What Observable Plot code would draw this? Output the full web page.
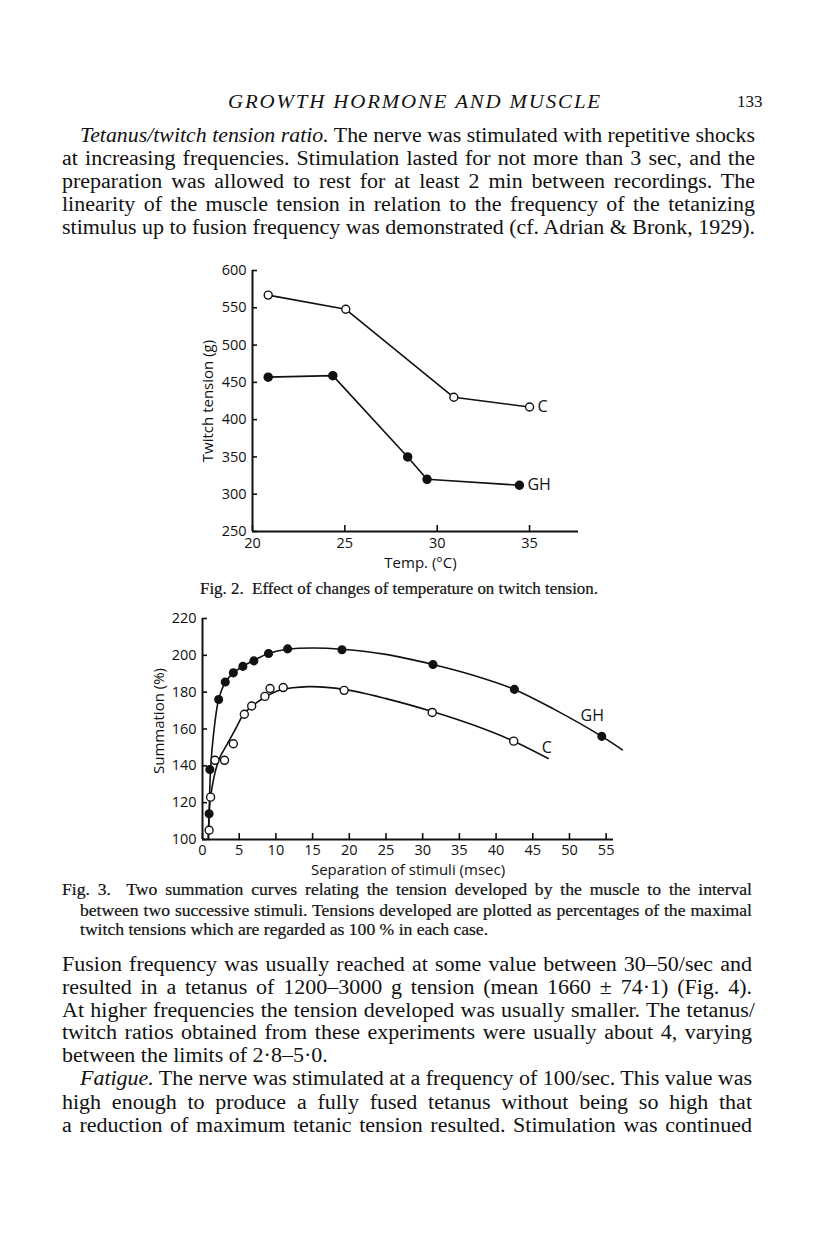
<!DOCTYPE html>
<html><head><meta charset="utf-8">
<script src="https://cdn.jsdelivr.net/npm/d3@7"></script>
<script src="https://cdn.jsdelivr.net/npm/@observablehq/plot@0.6"></script>
<style>
body{margin:0;background:#fff;}
#page{position:relative;width:816px;height:1249px;overflow:hidden;background:#fff;color:#111;}
.ln{position:absolute;white-space:nowrap;font-family:"Liberation Serif","Times New Roman",serif;font-size:20px;line-height:24px;color:#111;transform-origin:0 0;}
.cap{font-size:16px;line-height:18px;-webkit-text-stroke:0.2px #111;}
.hdr{font-size:19px;font-style:italic;}
.pg{font-size:17px;}
.chart{position:absolute;left:0;}
</style></head><body><div id="page"></div>
<script>
// ---------- Fig. 2 data: twitch tension vs temperature ----------
const tempC = [20.85, 25.05, 30.9, 35.0];
const tensionC = [567, 548, 430, 417];
const tempGH = [20.85, 24.35, 28.4, 29.45, 34.45];
const tensionGH = [457, 459, 350, 320, 312];
const tempTicks = [20, 25, 30, 35];
const tensionTicks = [250, 300, 350, 400, 450, 500, 550, 600];
const fig2SeriesLabels = ["C", "GH"];
const fig2AxisLabels = ["Temp. (°C)", "Twitch tension (g)"];

// ---------- Fig. 3 data: summation vs separation of stimuli ----------
const sepGH = [0.9, 1.0, 2.2, 3.1, 4.2, 5.5, 7.0, 9.0, 11.6, 19.0, 31.4, 42.5, 54.4];
const sumGH = [114, 138, 176, 185.5, 190.5, 194, 197, 201, 203.5, 203, 195, 181.5, 156];
const sepC = [0.9, 1.1, 1.7, 3.0, 4.2, 5.7, 6.7, 8.5, 9.2, 11.0, 19.3, 31.3, 42.4];
const sumC = [105, 123, 143, 143, 152, 168, 172.5, 177.7, 182, 182.5, 181, 169, 153.4];
// fitted curves
const curveGHx = [0.8, 0.9, 1.1, 1.5, 2.2, 3.1, 4.2, 5.5, 7.0, 9.0, 11.6, 15, 19, 25, 31.4, 37, 42.5, 48, 54.4, 57.2];
const curveGHy = [100, 114, 138, 157, 176, 185.3, 190.5, 194, 197.3, 201, 203.3, 204, 203.3, 200.5, 195, 189, 181.5, 170.5, 156, 148.7];
const curveCx = [0.8, 1.1, 2.2, 3.4, 4.5, 5.6, 6.7, 8.4, 10.5, 14.5, 19.3, 25, 31.3, 37, 42.4, 47.1];
const curveCy = [100, 123, 143, 152, 160, 168, 172.3, 177, 181, 183, 181.5, 176.5, 169.5, 162, 153.4, 144];
const sepTicks = [0, 5, 10, 15, 20, 25, 30, 35, 40, 45, 50, 55];
const sumTicks = [100, 120, 140, 160, 180, 200, 220];
const fig3Labels = [{x: 53.1, y: 167, t: "GH"}, {x: 46.9, y: 150, t: "C"}];
const fig3AxisLabels = ["Separation of stimuli (msec)", "Summation (%)"];

// ---------- page text ----------
const headerTitle = "GROWTH HORMONE AND MUSCLE";
const pageNumber = "133";
const para1 = [
  "<i>Tetanus/twitch tension ratio.</i> The nerve was stimulated with repetitive shocks",
  "at increasing frequencies. Stimulation lasted for not more than 3 sec, and the",
  "preparation was allowed to rest for at least 2 min between recordings. The",
  "linearity of the muscle tension in relation to the frequency of the tetanizing",
  "stimulus up to fusion frequency was demonstrated (cf. Adrian &amp; Bronk, 1929)."
];
const fig2Caption = "Fig. 2.&nbsp; Effect of changes of temperature on twitch tension.";
const fig3Caption = [
  "Fig. 3.&nbsp; Two summation curves relating the tension developed by the muscle to the interval",
  "between two successive stimuli. Tensions developed are plotted as percentages of the maximal",
  "twitch tensions which are regarded as 100 % in each case."
];
const para2 = [
  "Fusion frequency was usually reached at some value between 30–50/sec and",
  "resulted in a tetanus of 1200–3000 g tension (mean 1660 ± 74·1) (Fig. 4).",
  "At higher frequencies the tension developed was usually smaller. The tetanus/",
  "twitch ratios obtained from these experiments were usually about 4, varying",
  "between the limits of 2·8–5·0.",
  "<i>Fatigue.</i> The nerve was stimulated at a frequency of 100/sec. This value was",
  "high enough to produce a fully fused tetanus without being so high that",
  "a reduction of maximum tetanic tension resulted. Stimulation was continued"
];

const page = document.getElementById("page");
const STRETCH = 1.1; // wider glyphs, like the original Modern face
function placeLine(html, left, right, cy, cls, mode, stretch = STRETCH) {
  const el = document.createElement("div");
  el.className = "ln " + (cls || "");
  el.innerHTML = html;
  page.appendChild(el);
  const h = el.offsetHeight;
  el.style.left = left + "px";
  el.style.top = (cy - h / 2) + "px";
  let sx = stretch;
  if (right != null) {
    const w = el.getBoundingClientRect().width;
    const T = (right - left) / sx;
    if (mode === "letter") {
      const n = el.textContent.length;
      el.style.letterSpacing = ((T - w) / n) + "px";
    } else {
      const spaces = (el.textContent.match(/[ \u00a0]/g) || []).length;
      if (w < T && spaces) el.style.wordSpacing = ((T - w) / spaces) + "px";
      else if (w > T) sx = (right - left) / w;
    }
  }
  el.style.transform = `scaleX(${sx})`;
  return el;
}

// header
placeLine(headerTitle, 228, 602, 102, "hdr", "letter");
placeLine(pageNumber, 737, null, 102, "pg", null, 1);
// paragraph 1
const p1Y = [137, 160, 183, 206, 229];
para1.forEach((t, i) => placeLine(t, i === 0 ? 80 : 62, 755, p1Y[i] - 2));

// ---------- Fig. 2 ----------
const axisFont = "'Open Sans', sans-serif";
const f2C = tempC.map((x, i) => ({x, y: tensionC[i]}));
const f2GH = tempGH.map((x, i) => ({x, y: tensionGH[i]}));
const chart1 = Plot.plot({
  width: 816, height: 320,
  marginLeft: 252, marginRight: 238, marginTop: 15, marginBottom: 44,
  x: {domain: [20, 37.65]},
  y: {domain: [250, 600]},
  style: {fontFamily: axisFont, fontSize: "14.5px", color: "#111", background: "transparent", overflow: "visible"},
  marks: [
    Plot.axisY(tensionTicks, {tickSize: -5, tickPadding: 11, strokeWidth: 1.6, label: null, tickFormat: d => d, fontSize: 14.5}),
    Plot.axisX(tempTicks, {tickSize: -6, tickPadding: 12, strokeWidth: 1.6, label: null, tickFormat: d => d, fontSize: 14.5}),
    Plot.ruleX([20], {strokeWidth: 2}),
    Plot.ruleY([250], {strokeWidth: 2}),
    Plot.line(f2C, {x: "x", y: "y", strokeWidth: 1.6, stroke: "#111"}),
    Plot.line(f2GH, {x: "x", y: "y", strokeWidth: 1.6, stroke: "#111"}),
    Plot.dot(f2C, {x: "x", y: "y", r: 4, fill: "white", stroke: "#111", strokeWidth: 1.4}),
    Plot.dot(f2GH, {x: "x", y: "y", r: 4, fill: "#111", stroke: "#111"}),
    Plot.text([f2C[f2C.length - 1]], {x: "x", y: "y", text: () => fig2SeriesLabels[0], dx: 8, textAnchor: "start", fontSize: 16}),
    Plot.text([f2GH[f2GH.length - 1]], {x: "x", y: "y", text: () => fig2SeriesLabels[1], dx: 8, textAnchor: "start", fontSize: 16}),
    Plot.text([fig2AxisLabels[0]], {frameAnchor: "bottom", text: d => d, dx: 5, dy: 32, textAnchor: "middle", lineAnchor: "middle", fontSize: 15}),
    Plot.text([fig2AxisLabels[1]], {frameAnchor: "left", text: d => d, dx: -44, rotate: -90, textAnchor: "middle", lineAnchor: "middle", fontSize: 15})
  ]
});
chart1.classList.add("chart");
chart1.style.top = "255px";
page.appendChild(chart1);

placeLine(fig2Caption, 200, 598, 589, "cap");

// ---------- Fig. 3 ----------
const f3GH = sepGH.map((x, i) => ({x, y: sumGH[i]}));
const f3C = sepC.map((x, i) => ({x, y: sumC[i]}));
const f3GHc = curveGHx.map((x, i) => ({x, y: curveGHy[i]}));
const f3Cc = curveCx.map((x, i) => ({x, y: curveCy[i]}));
const chart2 = Plot.plot({
  width: 816, height: 290,
  marginLeft: 202, marginRight: 203, marginTop: 18, marginBottom: 51,
  x: {domain: [0, 56]},
  y: {domain: [100, 220]},
  style: {fontFamily: axisFont, fontSize: "14.5px", color: "#111", background: "transparent", overflow: "visible"},
  marks: [
    Plot.axisY(sumTicks, {tickSize: -5, tickPadding: 11, strokeWidth: 1.6, label: null, tickFormat: d => d, fontSize: 14.5}),
    Plot.axisX(sepTicks, {tickSize: -6, tickPadding: 11, strokeWidth: 1.6, label: null, tickFormat: d => d, fontSize: 14.5}),
    Plot.ruleX([0], {strokeWidth: 2}),
    Plot.ruleY([100], {strokeWidth: 2}),
    Plot.line(f3GHc, {x: "x", y: "y", curve: "catmull-rom", strokeWidth: 1.6, stroke: "#111"}),
    Plot.line(f3Cc, {x: "x", y: "y", curve: "catmull-rom", strokeWidth: 1.6, stroke: "#111"}),
    Plot.dot(f3C, {x: "x", y: "y", r: 4, fill: "white", stroke: "#111", strokeWidth: 1.4}),
    Plot.dot(f3GH, {x: "x", y: "y", r: 3.8, fill: "#111", stroke: "#111"}),
    Plot.text(fig3Labels, {x: "x", y: "y", text: "t", fontSize: 16}),
    Plot.text([fig3AxisLabels[0]], {frameAnchor: "bottom", text: d => d, dy: 31, textAnchor: "middle", lineAnchor: "middle", fontSize: 15}),
    Plot.text([fig3AxisLabels[1]], {frameAnchor: "left", text: d => d, dx: -43, dy: -8, rotate: -90, textAnchor: "middle", lineAnchor: "middle", fontSize: 15})
  ]
});
chart2.classList.add("chart");
chart2.style.top = "600px";
page.appendChild(chart2);

placeLine(fig3Caption[0], 62, 752, 890, "cap");
placeLine(fig3Caption[1], 80, 752, 911, "cap");
placeLine(fig3Caption[2], 80, null, 930, "cap");

// paragraph 2
const p2Y = [966, 989, 1012, 1034, 1057, 1080, 1104, 1127];
const p2L = [62, 62, 62, 62, 62, 80, 62, 62];
const p2R = [752, 752, 755, 752, null, 752, 752, 752];
para2.forEach((t, i) => placeLine(t, p2L[i], p2R[i], p2Y[i] - 2));
</script>
</body></html>
